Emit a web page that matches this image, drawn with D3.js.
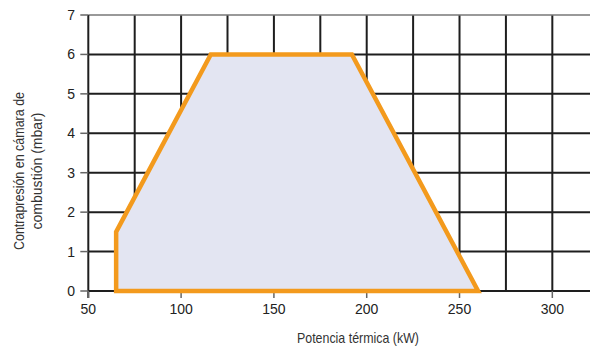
<!DOCTYPE html>
<html>
<head>
<meta charset="utf-8">
<script src="https://cdn.jsdelivr.net/npm/d3@7"></script>
<style>
  body { margin: 0; background: #fff; }
  svg { display: block; }
</style>
</head>
<body>
<div id="chart"></div>
<script>
// Working field (potencia kW vs contrapresión mbar)
const fieldPower = [65, 65, 116, 192, 260];
const fieldPressure = [0, 1.5, 6, 6, 0];
const xTicks = [50, 100, 150, 200, 250, 300];
const xGrid = [75, 100, 125, 150, 175, 200, 225, 250, 275, 300];
const yTicks = [0, 1, 2, 3, 4, 5, 6, 7];
const xLabel = "Potencia térmica (kW)";
const yLabel = ["Contrapresión en cámara de", "combustión (mbar)"];
const yLabelWidth = [158, 117];

const W = 590, H = 347;
const condensed = "'Liberation Sans', Arial, sans-serif";

const svg = d3.select("#chart").append("svg")
  .attr("width", W).attr("height", H);

const x = d3.scaleLinear().domain([50, 320.3]).range([88.3, 590]);
const y = d3.scaleLinear().domain([0, 7]).range([291, 15]);

// grid
svg.append("g").selectAll("line").data(xGrid).join("line")
  .attr("x1", d => x(d)).attr("x2", d => x(d))
  .attr("y1", y(7)).attr("y2", y(0))
  .attr("stroke", "#1e1e1e").attr("stroke-width", 2);

svg.append("g").selectAll("line").data(yTicks.filter(d => d > 0 && d < 7)).join("line")
  .attr("x1", x(50)).attr("x2", W)
  .attr("y1", d => y(d)).attr("y2", d => y(d))
  .attr("stroke", "#1e1e1e").attr("stroke-width", 2);

// top line (lighter)
svg.append("line")
  .attr("x1", x(50)).attr("x2", W)
  .attr("y1", y(7)).attr("y2", y(7))
  .attr("stroke", "#777").attr("stroke-width", 1.5);

// bottom line
svg.append("line")
  .attr("x1", x(50)).attr("x2", W)
  .attr("y1", y(0)).attr("y2", y(0))
  .attr("stroke", "#1e1e1e").attr("stroke-width", 2);

// left axis line
svg.append("line")
  .attr("x1", x(50)).attr("x2", x(50))
  .attr("y1", y(7)).attr("y2", y(0) + 7)
  .attr("stroke", "#1e1e1e").attr("stroke-width", 2);

// y ticks
svg.append("g").selectAll("line").data(yTicks).join("line")
  .attr("x1", x(50) - 8).attr("x2", x(50))
  .attr("y1", d => y(d)).attr("y2", d => y(d))
  .attr("stroke", "#666").attr("stroke-width", 1.5);

svg.append("g").selectAll("text").data(yTicks).join("text")
  .attr("x", 75).attr("y", d => y(d))
  .attr("text-anchor", "end").attr("dy", "0.36em")
  .style("font-family", "'Liberation Sans', Arial, sans-serif")
  .style("font-size", "14px").style("fill", "#222")
  .text(d => d);

// x ticks
svg.append("g").selectAll("line").data(xTicks).join("line")
  .attr("x1", d => x(d)).attr("x2", d => x(d))
  .attr("y1", y(0)).attr("y2", y(0) + 7)
  .attr("stroke", "#666").attr("stroke-width", 1.5);

svg.append("g").selectAll("text").data(xTicks).join("text")
  .attr("x", d => x(d)).attr("y", 314)
  .attr("text-anchor", "middle")
  .style("font-family", "'Liberation Sans', Arial, sans-serif")
  .style("font-size", "14px").style("fill", "#222")
  .text(d => d);

// working field polygon
const pts = fieldPower.map((p, i) => [x(p), y(fieldPressure[i])]);
svg.append("path")
  .attr("d", d3.line()(pts) + "Z")
  .attr("fill", "#e3e5f2")
  .attr("stroke", "#f39a1d")
  .attr("stroke-width", 4.5)
  .attr("stroke-linejoin", "miter");

// axis titles (condensed look via textLength)
svg.append("text")
  .attr("x", 358 - 61).attr("y", 343)
  .attr("textLength", 122).attr("lengthAdjust", "spacingAndGlyphs")
  .style("font-family", condensed)
  .style("font-size", "15px").style("fill", "#333")
  .text(xLabel);

yLabel.forEach((t, i) => {
  svg.append("text")
    .attr("transform", `translate(${24 + i * 18},171) rotate(-90)`)
    .attr("x", -yLabelWidth[i] / 2)
    .attr("textLength", yLabelWidth[i]).attr("lengthAdjust", "spacingAndGlyphs")
    .style("font-family", condensed)
    .style("font-size", "15px").style("fill", "#333")
    .text(t);
});
</script>
</body>
</html>
